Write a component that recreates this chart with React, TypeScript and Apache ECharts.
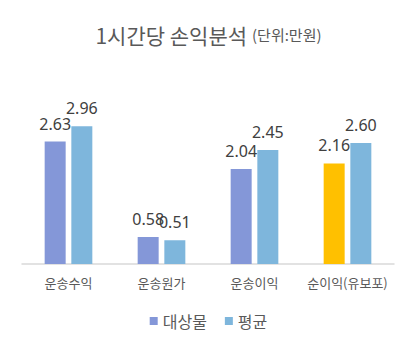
import React, { useEffect, useRef } from "react";
import * as echarts from "echarts";

const categories = ["운송수익", "운송원가", "운송이익", "순이익(유보포)"];
const targetValues = [2.63, 0.58, 2.04, 2.16];
const averageValues = [2.96, 0.51, 2.45, 2.6];
const seriesNames = ["대상물", "평균"];
const highlightIndex = 3;

const KR = "'Malgun Gothic','Noto Sans CJK KR','Noto Sans',sans-serif";

export default function App() {
  const ref = useRef<HTMLDivElement>(null);
  useEffect(() => {
    if (!ref.current) return;
    const chart = echarts.init(ref.current, undefined, { renderer: "svg" });
    const labelStyle = {
      show: true,
      position: "top" as const,
      distance: 10,
      fontSize: 16,
      color: "#404040",
      fontFamily: "'Noto Sans',sans-serif",
      formatter: (p: any) => Number(p.value).toFixed(2),
    };
    chart.setOption({
      animation: false,
      title: {
        text: "{a|1시간당 손익분석} {b|(단위:만원)}",
        left: "center",
        top: 19,
        textStyle: {
          fontWeight: "normal",
          rich: {
            a: { fontSize: 21, color: "#595959", fontFamily: KR, fontWeight: "normal" },
            b: { fontSize: 15, color: "#595959", fontFamily: KR, fontWeight: "normal" },
          },
        },
      },
      legend: {
        data: seriesNames,
        bottom: 18,
        left: "center",
        itemWidth: 8,
        itemHeight: 8,
        itemGap: 18,
        icon: "rect",
        textStyle: { fontSize: 16, color: "#595959", fontFamily: KR },
      },
      grid: { left: 22, right: 23, top: 101, bottom: 88 },
      xAxis: {
        type: "category",
        data: categories,
        axisLine: { lineStyle: { color: "#d9d9d9", width: 1.5 } },
        axisTick: { show: false },
        axisLabel: { fontSize: 13, color: "#595959", fontFamily: KR, margin: 12, interval: 0 },
      },
      yAxis: {
        type: "value",
        min: 0,
        max: 3.5,
        show: false,
        splitLine: { show: false },
      },
      series: [
        {
          name: seriesNames[0],
          type: "bar",
          data: targetValues.map((v, i) =>
            i === highlightIndex ? { value: v, itemStyle: { color: "#FFC000" } } : v
          ),
          itemStyle: { color: "#8497D8" },
          barWidth: 21,
          barGap: "27%",
          label: labelStyle,
        },
        {
          name: seriesNames[1],
          type: "bar",
          data: averageValues,
          itemStyle: { color: "#7EB6DC" },
          barWidth: 21,
          label: labelStyle,
        },
      ],
    });
    return () => chart.dispose();
  }, []);
  return (
    <div
      ref={ref}
      style={{ position: "fixed", left: 0, top: 0, width: 417, height: 352, background: "#fff" }}
    />
  );
}
